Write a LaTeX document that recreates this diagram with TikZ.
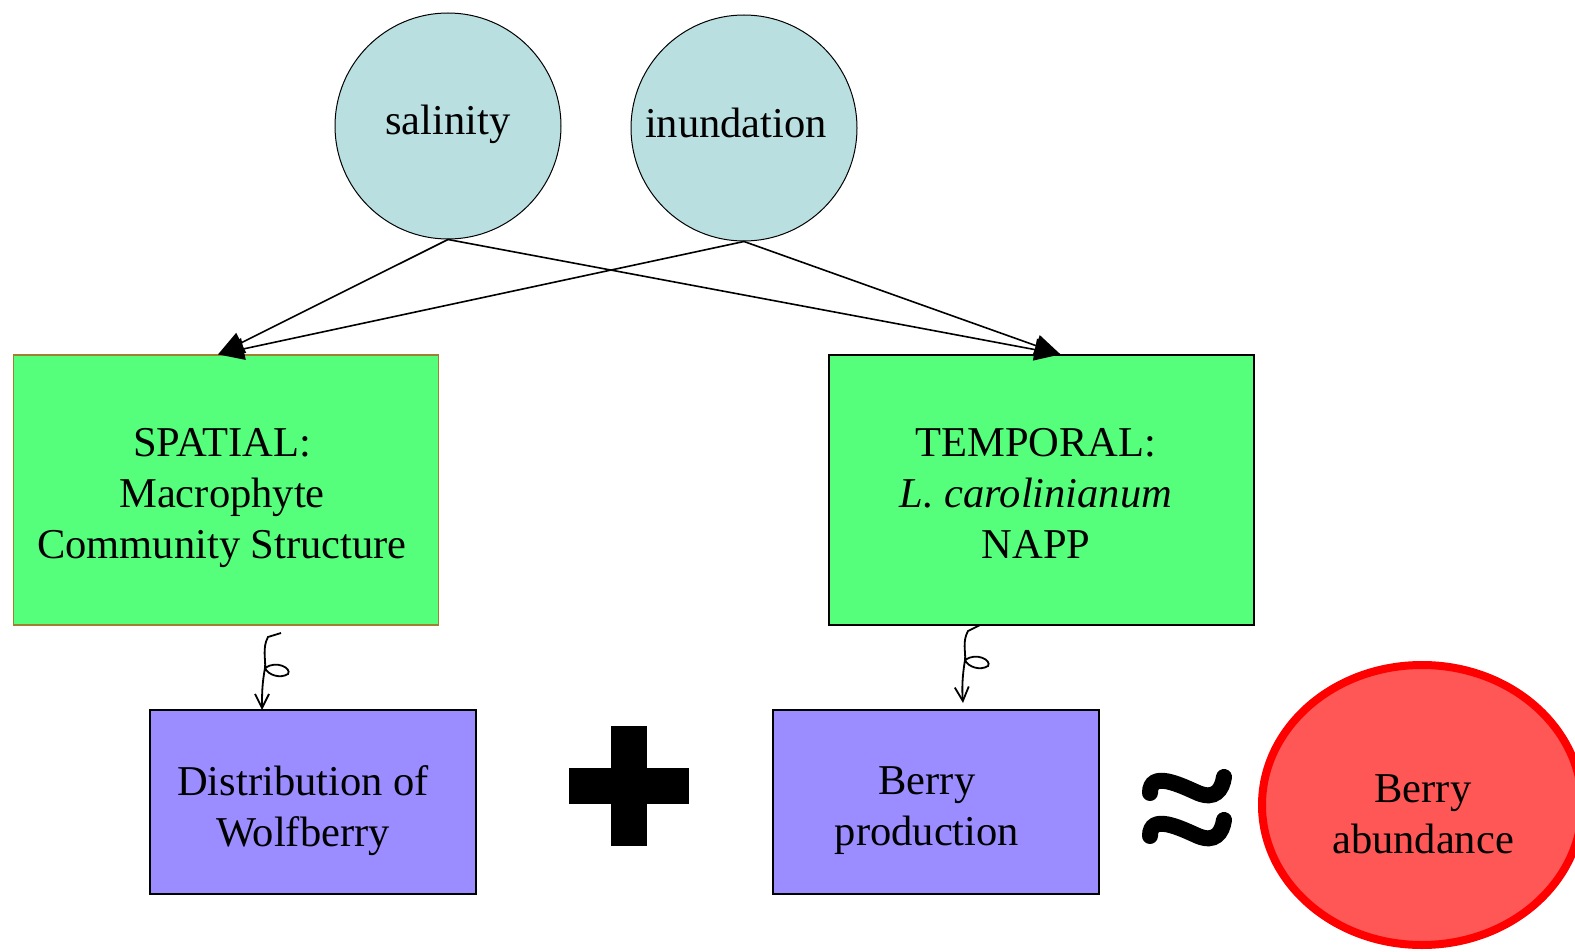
\documentclass[tikz,border=0pt]{standalone}
\usepackage{fontspec}
\setmainfont{Liberation Serif}
\usetikzlibrary{arrows.meta,shapes.geometric}
\definecolor{cblue}{HTML}{B9DFE0}
\definecolor{cgreen}{HTML}{55FF7B}
\definecolor{cpurple}{HTML}{9B8CFF}
\definecolor{cred}{HTML}{FF5656}
\definecolor{cedge}{HTML}{FF0000}
\definecolor{olive}{HTML}{A08030}
\tikzset{
  factor/.style={circle, draw=black, line width=1pt, fill=cblue, minimum size=226pt, inner sep=0pt},
  greenbox/.style={rectangle, draw=black, line width=1.2pt, fill=cgreen, minimum width=425pt, minimum height=270pt, align=center, inner sep=0pt},
  purplebox/.style={rectangle, draw=black, line width=1.2pt, fill=cpurple, minimum width=326pt, minimum height=184pt, align=center, inner sep=0pt},
  link/.style={line width=1.6pt, -{Triangle[length=26pt,width=22pt]}},
  curly/.style={line width=1.8pt, -{Straight Barb[length=14pt,width=14pt]}},
  sym/.style={line width=16pt, line cap=round},
  txt/.style={font=\fontsize{42.5}{51}\selectfont}
}
\begin{document}
\begin{tikzpicture}[x=1pt,y=-1pt]
\useasboundingbox (0,0) rectangle (1575,952);
\fill[white] (0,0) rectangle (1575,952);

\node[factor, txt] (sal) at (448,126) {};
\node[txt] (saltxt) at (448,124) {salinity};
\node[factor, txt] (inu) at (744,128) {};
\node[txt] (inutxt) at (736,123) {inundation};

\node[greenbox, draw=olive, txt] (sp) at (226,490) {};
\node[txt, align=center] (sptxt) at (222,498) {SPATIAL:\\Macrophyte\\Community Structure};
\node[greenbox, txt] (tp) at (1041.5,490) {};
\node[txt, align=center] (tptxt) at (1036,493) {TEMPORAL:\\\textit{L. carolinianum}\\NAPP};

\node[purplebox, txt] (dw) at (313,802) {};
\node[txt, align=center] (dwtxt) at (303,811) {Distribution of\\Wolfberry};
\node[purplebox, txt] (bp) at (936,802) {};
\node[txt, align=center] (bptxt) at (927,811) {Berry\\production};

\node[ellipse, draw=cedge, line width=8pt, fill=cred, minimum width=320pt, minimum height=280pt, inner sep=0pt] (ba) at (1422,805) {};
\node[txt, align=center] (batxt) at (1423,814) {Berry\\abundance};

% arrows from factors
\draw[link] (sal.south) -- ([xshift=-8pt]sp.north);
\draw[link] (inu.south) -- ([xshift=-8pt]sp.north);
\draw[link] (sal.south) -- ([xshift=19pt]tp.north);
\draw[link] (inu.south) -- ([xshift=19pt]tp.north);

% curly arrows
\coordinate (c1) at (281,633);
\coordinate (e1) at (262,710);
\draw[curly] (c1) -- (268,637) .. controls (262,648) and (266,660) .. (265,668)
  .. controls (276,660) and (292,668) .. (288,674)
  .. controls (280,679) and (268,675) .. (265,668)
  .. controls (262,684) and (262,695) .. (e1);
\coordinate (c2) at (980,625);
\coordinate (e2) at (963,703);
\draw[curly] (c2) -- (968,631) .. controls (962,642) and (966,652) .. (965,660)
  .. controls (976,652) and (992,660) .. (988,666)
  .. controls (980,671) and (968,667) .. (965,660)
  .. controls (962,678) and (962,690) .. (e2);

% plus
\node[fill=black, minimum width=120pt, minimum height=36pt, inner sep=0pt] (plush) at (629,786) {};
\node[fill=black, minimum width=36pt, minimum height=120pt, inner sep=0pt] (plusv) at (629,786) {};

% approx
\draw[sym] (1150,793) .. controls (1150,770) and (1180,785) .. (1198,793) .. controls (1215,800) and (1222,790) .. (1224,777);
\draw[sym] (1150,836) .. controls (1150,813) and (1180,828) .. (1198,836) .. controls (1215,843) and (1222,833) .. (1224,820);
\end{tikzpicture}
\end{document}
